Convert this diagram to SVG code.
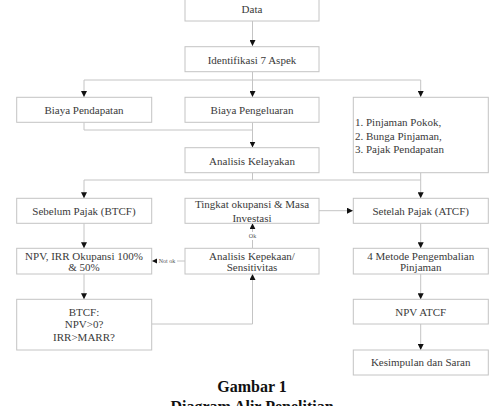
<svg xmlns="http://www.w3.org/2000/svg" width="497" height="406" viewBox="0 0 497 406">
<style>
.box{fill:#fff;stroke:#c4c4c4;stroke-width:1}
.t{font-family:"Liberation Serif","Times New Roman",serif;font-size:11px;fill:#3a3a3a;text-anchor:middle}
.tl{font-family:"Liberation Serif","Times New Roman",serif;font-size:11px;fill:#3a3a3a}
.s{font-family:"Liberation Serif","Times New Roman",serif;font-size:6px;fill:#555;text-anchor:middle}
.c{fill:none;stroke:#c4c4c4;stroke-width:1}
.cap{font-family:"Liberation Serif","Times New Roman",serif;font-size:16px;font-weight:bold;fill:#111;text-anchor:middle}
</style>
<defs>
<marker id="ah" viewBox="0 0 6 6" refX="6" refY="3" markerWidth="6" markerHeight="6" markerUnits="userSpaceOnUse" orient="auto">
<path d="M0,0 L6,3 L0,6 z" fill="#111"/>
</marker>
</defs>
<rect width="497" height="406" fill="#fff"/>
<g id="connectors">
<path class="c" d="M252.5,21 V46" marker-end="url(#ah)"/>
<path class="c" d="M252.5,72 V80 M84,80 H420.7"/>
<path class="c" d="M84,80 V97" marker-end="url(#ah)"/>
<path class="c" d="M252.5,80 V97" marker-end="url(#ah)"/>
<path class="c" d="M420.7,80 V97" marker-end="url(#ah)"/>
<path class="c" d="M84,122.5 V130 H252.5"/>
<path class="c" d="M252.5,122.5 V147.5" marker-end="url(#ah)"/>
<path class="c" d="M252.5,172.7 V180 M84,180 H420.7"/>
<path class="c" d="M84,180 V198.3" marker-end="url(#ah)"/>
<path class="c" d="M420.7,172.7 V198.3" marker-end="url(#ah)"/>
<path class="c" d="M319,210.7 H353" marker-end="url(#ah)"/>
<path class="c" d="M252.5,248.3 V223.3" marker-end="url(#ah)"/>
<path class="c" d="M185,261 H152" marker-end="url(#ah)"/>
<path class="c" d="M84,223.3 V248.3" marker-end="url(#ah)"/>
<path class="c" d="M84,274 V299.3" marker-end="url(#ah)"/>
<path class="c" d="M151.7,324 H252.5 V274" marker-end="url(#ah)"/>
<path class="c" d="M420.7,223.3 V248.3" marker-end="url(#ah)"/>
<path class="c" d="M420.7,274 V299.3" marker-end="url(#ah)"/>
<path class="c" d="M420.7,324 V350" marker-end="url(#ah)"/>
<rect x="246" y="232" width="13" height="8" fill="#fff"/>
<text class="s" x="252.5" y="238">Ok</text>
<rect x="157" y="257" width="20" height="8" fill="#fff"/>
<text class="s" x="167" y="263">Not ok</text>
</g>
<g id="data"><rect class="box" x="185" y="-4" width="134" height="25"/><text class="t" x="252" y="13">Data</text></g>
<g id="identifikasi"><rect class="box" x="185" y="46.7" width="134" height="25"/><text class="t" x="252" y="63.5">Identifikasi 7 Aspek</text></g>
<g id="biaya-pendapatan"><rect class="box" x="16.7" y="97.3" width="135" height="25"/><text class="t" x="84" y="114">Biaya Pendapatan</text></g>
<g id="biaya-pengeluaran"><rect class="box" x="185" y="97.3" width="134" height="25"/><text class="t" x="252" y="114">Biaya Pengeluaran</text></g>
<g id="pinjaman"><rect class="box" x="353.3" y="97.3" width="135" height="75.4"/>
<text class="tl" x="355" y="126">1. Pinjaman Pokok,</text>
<text class="tl" x="355" y="139.5">2. Bunga Pinjaman,</text>
<text class="tl" x="355" y="152.5">3. Pajak Pendapatan</text></g>
<g id="analisis-kelayakan"><rect class="box" x="185" y="147.7" width="134" height="25"/><text class="t" x="252" y="164.5">Analisis Kelayakan</text></g>
<g id="sebelum-pajak"><rect class="box" x="16.7" y="198.3" width="135" height="25"/><text class="t" x="84" y="215">Sebelum Pajak (BTCF)</text></g>
<g id="tingkat-okupansi"><rect class="box" x="185" y="198.3" width="134" height="25"/><text class="t" x="252" y="208">Tingkat okupansi &amp; Masa</text><text class="t" x="252" y="221.5">Investasi</text></g>
<g id="setelah-pajak"><rect class="box" x="353.3" y="198.3" width="135" height="25"/><text class="t" x="420.7" y="215">Setelah Pajak (ATCF)</text></g>
<g id="npv-irr"><rect class="box" x="16.7" y="248.3" width="135" height="25.7"/><text class="t" x="84" y="259.5">NPV, IRR Okupansi 100%</text><text class="t" x="84" y="271">&amp; 50%</text></g>
<g id="analisis-kepekaan"><rect class="box" x="185" y="248.3" width="134" height="25.7"/><text class="t" x="252" y="259.5">Analisis Kepekaan/</text><text class="t" x="252" y="271">Sensitivitas</text></g>
<g id="metode"><rect class="box" x="353.3" y="248.3" width="135" height="25.7"/><text class="t" x="420.7" y="259.5">4 Metode Pengembalian</text><text class="t" x="420.7" y="271">Pinjaman</text></g>
<g id="btcf"><rect class="box" x="16.7" y="299.3" width="135" height="50.7"/><text class="t" x="84" y="315.5">BTCF:</text><text class="t" x="84" y="328">NPV&gt;0?</text><text class="t" x="84" y="341">IRR&gt;MARR?</text></g>
<g id="npv-atcf"><rect class="box" x="353.3" y="299.3" width="135" height="24.7"/><text class="t" x="420.7" y="315.5">NPV ATCF</text></g>
<g id="kesimpulan"><rect class="box" x="353.3" y="350" width="135" height="25"/><text class="t" x="420.7" y="366">Kesimpulan dan Saran</text></g>
<text class="cap" x="252" y="392.3">Gambar 1</text>
<text class="cap" x="252" y="411.5">Diagram Alir Penelitian</text>
</svg>
